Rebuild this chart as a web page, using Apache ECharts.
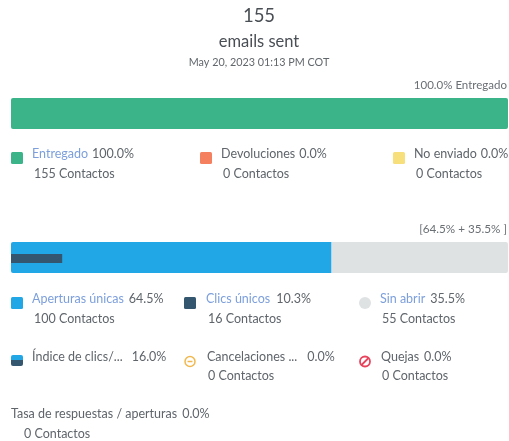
<!DOCTYPE html>
<html><head><meta charset="utf-8">
<style>html,body{margin:0;padding:0;background:#fff}#c{width:509px;height:441px}</style>
<script src="https://cdn.jsdelivr.net/npm/echarts@6/dist/echarts.min.js"></script>
</head><body><div id="c"></div>
<script>
const deliveryNames = ['Entregado', 'Devoluciones', 'No enviado'];
const deliveryPct = [100.0, 0.0, 0.0];
const deliveryContacts = [155, 0, 0];
const openNames = ['Aperturas únicas', 'Clics únicos', 'Sin abrir'];
const openPct = [64.5, 10.3, 35.5];
const openContacts = [100, 16, 55];
const rateNames = ['Índice de clics/...', 'Cancelaciones ...', 'Quejas', 'Tasa de respuestas / aperturas'];
const ratePct = [16.0, 0.0, 0.0, 0.0];
const rateContacts = [null, 0, 0, 0];
const GREEN='#3cb489', ORANGE='#f58060', YELLOW='#f7df7c', BLUE='#22a7e6', NAVY='#34566f', GREY='#dfe2e3';
const FONT='Lato, "Open Sans", sans-serif', TXT='#5f656b', LINK='#7c9fdc', BASE=12.5;
const pct=v=>v.toFixed(1)+'%';
const contacts=n=>n+' Contactos';
function text(x,y,t,o={}){return {type:'text',x,y,silent:true,style:Object.assign({text:t,font:`${o.size||BASE}px ${FONT}`,fill:o.fill||TXT,textAlign:o.align||'left',textVerticalAlign:'middle'},o.style||{})}}
function label(x,y,name,p,link,gap){
  return {type:'text',x,y,silent:true,style:{text:`{a|${name}}{b|${pct(p)}}`,textVerticalAlign:'middle',font:`${BASE}px ${FONT}`,
    rich:{a:{fill:link?LINK:TXT,font:`${BASE}px ${FONT}`,padding:[0,gap||4,0,0]},b:{fill:TXT,font:`${BASE}px ${FONT}`}}}};
}
function sq(x,y,c){return {type:'rect',shape:{x,y,width:12,height:12,r:1.5},style:{fill:c},silent:true}}
const g=[
 text(259,16,'155',{size:18.5,align:'center',fill:'#4a4f55'}),
 text(259,42,'emails sent',{size:16.5,align:'center',fill:'#4a4f55'}),
 text(259,63,'May 20, 2023 01:13 PM COT',{size:10.8,align:'center',fill:'#62676c'}),
 text(507,85,pct(deliveryPct[0])+' '+deliveryNames[0],{size:11.5,align:'right',fill:'#6a6f74'}),
 text(507,229,`[${pct(openPct[0])} + ${pct(openPct[2])} ]`,{size:11.7,align:'right',fill:'#6a6f74'}),
 sq(11,152,GREEN),sq(200,152,ORANGE),sq(393,152,YELLOW),
 label(32,154,deliveryNames[0],deliveryPct[0],true),
 label(221,154,deliveryNames[1],deliveryPct[1],false),
 label(414,154,deliveryNames[2],deliveryPct[2],false),
 text(34,174,contacts(deliveryContacts[0])),
 text(223,174,contacts(deliveryContacts[1])),
 text(416,174,contacts(deliveryContacts[2])),
 sq(11,297,BLUE),sq(184,297,NAVY),
 {type:'circle',shape:{cx:365,cy:303,r:6},style:{fill:GREY},silent:true},
 label(32,299,openNames[0],openPct[0],true,5),
 label(206,299,openNames[1],openPct[1],true,6),
 label(380,299,openNames[2],openPct[2],true,5),
 text(34,319,contacts(openContacts[0])),
 text(208,319,contacts(openContacts[1])),
 text(382,319,contacts(openContacts[2])),
 {type:'rect',shape:{x:11,y:355,width:12,height:11,r:2},silent:true,style:{fill:{type:'linear',x:0,y:0,x2:0,y2:1,colorStops:[{offset:0,color:BLUE},{offset:.45,color:BLUE},{offset:.45,color:NAVY},{offset:1,color:NAVY}]}}},
 {type:'circle',shape:{cx:190,cy:361.5,r:5},style:{fill:'none',stroke:'#f2b84f',lineWidth:1.5},silent:true},
 {type:'line',shape:{x1:187.5,y1:361.5,x2:192.5,y2:361.5},style:{stroke:'#f2b84f',lineWidth:1.5},silent:true},
 {type:'circle',shape:{cx:365,cy:361.5,r:5},style:{fill:'none',stroke:'#e8435c',lineWidth:1.8},silent:true},
 {type:'line',shape:{x1:361.5,y1:365,x2:368.5,y2:358},style:{stroke:'#e8435c',lineWidth:1.8},silent:true},
 label(32,357,rateNames[0],ratePct[0],false,9),
 label(207,357,rateNames[1],ratePct[1],false,10),
 label(381,357,rateNames[2],ratePct[2],false,5),
 text(208,376,contacts(rateContacts[1])),
 text(382,376,contacts(rateContacts[2])),
 label(11,414,rateNames[3],ratePct[3],false,5),
 text(24,434,contacts(rateContacts[3]))
];
function axes(n){return {
 xAxis:Array.from({length:n},(_,i)=>({type:'value',gridIndex:i,min:0,max:100,show:false})),
 yAxis:Array.from({length:n},(_,i)=>({type:'category',gridIndex:i,data:['x'],show:false}))}}
const bar=(name,i,v,c,stack,radius,w)=>({type:'bar',name,xAxisIndex:i,yAxisIndex:i,data:[v],stack,barWidth:w,silent:true,itemStyle:{color:c,borderRadius:radius}});
const chart=echarts.init(document.getElementById('c'),null,{renderer:'canvas'});
chart.setOption(Object.assign({
 animation:false,
 grid:[{left:11,right:1,top:98,height:31},{left:11,right:1,top:242,height:31},{left:11,right:1,top:243,height:31}],
 graphic:{elements:g},
 series:[
  bar(deliveryNames[0],0,deliveryPct[0],GREEN,'d',2,31),
  bar(openNames[0],1,openPct[0],BLUE,'o',[2,0,0,2],31),
  bar(openNames[2],1,openPct[2],GREY,'o',[0,2,2,0],31),
  bar(openNames[1],2,openPct[1],NAVY,undefined,0,9)
 ]
},axes(3)));
</script></body></html>
